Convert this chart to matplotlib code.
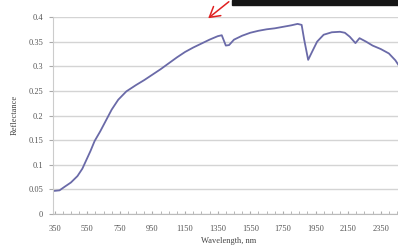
import numpy as np
import matplotlib.pyplot as plt
from matplotlib.ticker import MultipleLocator

# spectre de réflectance
comprimento = [350, 380, 410, 450, 490, 520, 545, 570, 595, 630, 665, 700, 740, 790,
               850, 900, 950, 1000, 1050, 1100, 1150, 1200, 1250, 1300, 1350, 1375,
               1400, 1420, 1450, 1500, 1550, 1600, 1650, 1700, 1750, 1800, 1840, 1865,
               1880, 1905, 1930, 1960, 2000, 2050, 2100, 2130, 2160, 2195, 2220, 2260,
               2300, 2350, 2400, 2440, 2460]
reflectancia = [0.047, 0.048, 0.055, 0.064, 0.077, 0.092, 0.110, 0.128, 0.148, 0.168,
                0.190, 0.212, 0.232, 0.249, 0.262, 0.272, 0.283, 0.294, 0.306, 0.318,
                0.329, 0.338, 0.346, 0.354, 0.361, 0.363, 0.342, 0.343, 0.354, 0.362,
                0.368, 0.372, 0.375, 0.377, 0.380, 0.383, 0.386, 0.384, 0.355, 0.313,
                0.330, 0.350, 0.364, 0.369, 0.370, 0.368, 0.360, 0.347, 0.357, 0.350,
                0.342, 0.335, 0.326, 0.312, 0.302]

x_ticks = [350, 550, 750, 950, 1150, 1350, 1550, 1750, 1950, 2150, 2350]
y_ticks = [0, 0.05, 0.1, 0.15, 0.2, 0.25, 0.3, 0.35, 0.4]
y_labels = ["0", "0.05", "0.1", "0.15", "0.2", "0.25", "0.3", "0.35", "0.4"]

fonte = "Liberation Serif"
cinza = "#555555"

fig = plt.figure(figsize=(3.98, 2.47), dpi=100)
ax = fig.add_axes([53 / 398, 1 - 214 / 247, 1 - 53 / 398, (214 - 17) / 247])

ax.plot(comprimento, reflectancia, color="#6a6aa8", linewidth=1.3)

ax.set_xlim(340, 2456)
ax.set_ylim(0, 0.4)
ax.set_xticks(x_ticks)
ax.set_xticklabels([str(v) for v in x_ticks], fontsize=6, family=fonte, color=cinza)
ax.set_yticks(y_ticks)
ax.set_yticklabels(y_labels, fontsize=6, family=fonte, color=cinza)
ax.xaxis.set_minor_locator(MultipleLocator(50))
ax.tick_params(axis="x", which="both", direction="in", length=2, color="#aaaaaa", pad=8)
ax.tick_params(axis="y", length=3, color="#aaaaaa", pad=4)

ax.grid(axis="y", color="#d4d4d4", linewidth=1.0)
ax.set_axisbelow(True)
for lado in ["top", "right"]:
    ax.spines[lado].set_visible(False)
ax.spines["left"].set_color("#cccccc")
ax.spines["bottom"].set_color("#bbbbbb")

fig.text(15 / 398, 1 - 115 / 247, "Reflectance", rotation=90, ha="center", va="center",
         fontsize=6, family=fonte, color="#444444")
fig.text(229 / 398, 1 - 241 / 247, "Wavelength, nm", ha="center", va="center",
         fontsize=6, family=fonte, color="#444444")

# marcas sobrepostas na captura: barra preta e seta vermelha
fig.patches.append(plt.Rectangle((232 / 398, 1 - 5 / 247), 166 / 398, 5 / 247,
                                 transform=fig.transFigure, color="#151515", zorder=5))
ax.annotate("", xy=(206 / 398, 1 - 20 / 247), xytext=(231 / 398, 1.0),
            xycoords="figure fraction", textcoords="figure fraction",
            arrowprops=dict(arrowstyle="->,head_length=0.6,head_width=0.35",
                            color="#e02020", lw=1.1, mutation_scale=12))

fig.savefig("out.png", dpi=100)
